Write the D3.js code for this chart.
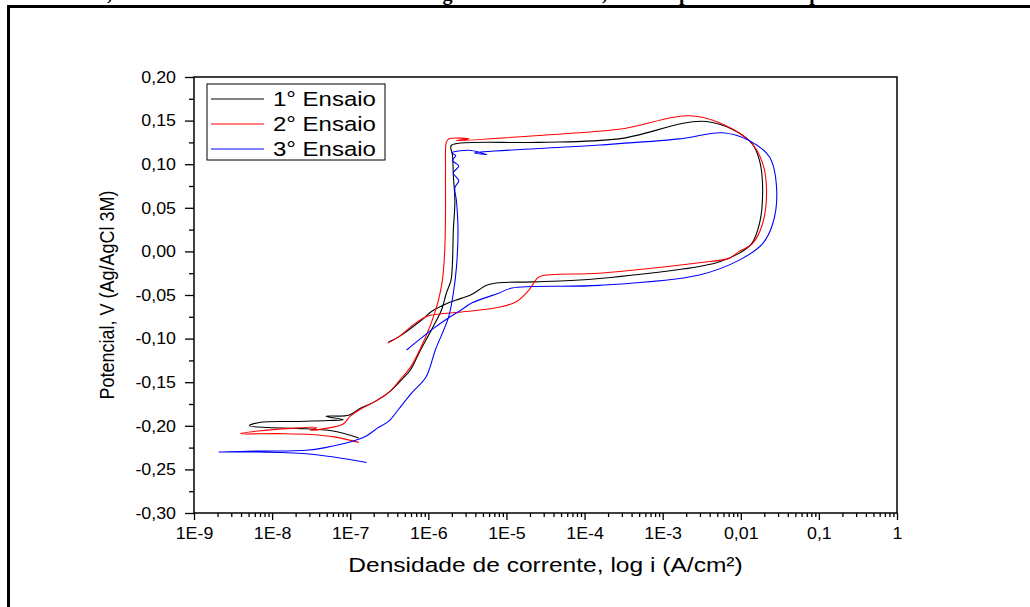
<!DOCTYPE html>
<html>
<head>
<meta charset="utf-8">
<script src="https://cdn.jsdelivr.net/npm/d3@7"></script>
<style>
  html, body { margin: 0; padding: 0; background: #fff; }
  svg { display: block; }
</style>
</head>
<body>
<div id="chart"></div>
<script>
// series: log10 of current density (A/cm2) and potential (V vs Ag/AgCl 3M), in scan order
const run1LogI = [-6.89,-7.22,-7.67,-8.05,-8.29,-8.15,-7.67,-7.28,-7.09,-7.31,-7.02,-6.87,-6.68,-6.51,-6.34,-6.23,-6.10,-5.96,-5.83,-5.77,-5.71,-5.69,-5.68,-5.66,-5.68,-5.69,-5.71,-5.61,-4.58,-3.56,-2.44,-1.89,-1.76,-1.72,-1.76,-1.86,-2.02,-2.31,-3.81,-4.67,-5.10,-5.26,-5.35,-5.46,-5.65,-5.74,-5.96,-6.09,-6.38,-6.51];
const run1E    = [-0.214,-0.206,-0.203,-0.202,-0.200,-0.196,-0.195,-0.194,-0.193,-0.189,-0.188,-0.180,-0.172,-0.162,-0.147,-0.136,-0.113,-0.090,-0.067,-0.048,-0.033,-0.010,0.024,0.058,0.087,0.110,0.121,0.124,0.125,0.129,0.149,0.127,0.104,0.070,0.032,0.009,-0.002,-0.013,-0.031,-0.035,-0.036,-0.039,-0.044,-0.050,-0.056,-0.059,-0.069,-0.079,-0.098,-0.104];

const run2LogI = [-6.89,-7.19,-7.50,-7.92,-8.41,-8.18,-7.75,-7.43,-7.51,-7.31,-7.09,-7.00,-6.87,-6.68,-6.51,-6.36,-6.23,-6.10,-5.97,-5.87,-5.82,-5.79,-5.78,-5.78,-5.77,-5.74,-5.48,-5.64,-4.58,-3.56,-2.57,-1.89,-1.72,-1.67,-1.72,-1.85,-2.02,-2.08,-2.15,-2.53,-3.81,-4.58,-4.65,-4.71,-4.88,-5.10,-5.52,-5.96,-6.03,-6.19,-6.38,-6.52];
const run2E    = [-0.219,-0.213,-0.210,-0.209,-0.209,-0.206,-0.203,-0.202,-0.205,-0.203,-0.198,-0.189,-0.181,-0.172,-0.162,-0.147,-0.133,-0.111,-0.084,-0.056,-0.033,0.001,0.047,0.093,0.125,0.129,0.129,0.127,0.133,0.140,0.155,0.127,0.101,0.070,0.032,0.009,0.000,-0.004,-0.008,-0.013,-0.025,-0.029,-0.036,-0.044,-0.058,-0.064,-0.069,-0.073,-0.075,-0.084,-0.098,-0.105];

const run3LogI = [-6.79,-7.19,-7.56,-8.18,-8.69,-8.18,-7.56,-7.32,-6.98,-6.80,-6.64,-6.51,-6.38,-6.21,-6.03,-5.91,-5.74,-5.68,-5.64,-5.62,-5.64,-5.66,-5.61,-5.68,-5.61,-5.69,-5.65,-5.70,-5.48,-5.25,-5.41,-4.58,-3.81,-2.79,-2.23,-1.89,-1.63,-1.54,-1.59,-1.72,-2.02,-2.53,-3.81,-4.93,-5.10,-5.44,-5.61,-5.74,-5.96,-6.25,-6.28];
const run3E    = [-0.242,-0.236,-0.232,-0.230,-0.230,-0.229,-0.228,-0.225,-0.218,-0.212,-0.202,-0.195,-0.181,-0.162,-0.144,-0.113,-0.075,-0.048,-0.018,0.024,0.058,0.073,0.081,0.090,0.098,0.104,0.110,0.113,0.116,0.111,0.113,0.118,0.122,0.129,0.136,0.127,0.108,0.070,0.032,0.009,-0.010,-0.027,-0.039,-0.042,-0.048,-0.059,-0.069,-0.076,-0.090,-0.111,-0.113];

const seriesNames = ["1° Ensaio", "2° Ensaio", "3° Ensaio"];
const seriesColors = ["#000000", "#ff0000", "#0000ff"];

const xTickValues = [1e-9,1e-8,1e-7,1e-6,1e-5,1e-4,1e-3,1e-2,1e-1,1];
const xTickLabels = ["1E-9","1E-8","1E-7","1E-6","1E-5","1E-4","1E-3","0,01","0,1","1"];
const yTickValues = [0.20,0.15,0.10,0.05,0.00,-0.05,-0.10,-0.15,-0.20,-0.25,-0.30];
const yTickLabels = ["0,20","0,15","0,10","0,05","0,00","-0,05","-0,10","-0,15","-0,20","-0,25","-0,30"];

const xTitle = "Densidade de corrente, log i (A/cm²)";
const yTitle = "Potencial, V (Ag/AgCl 3M)";
// caption of the page, cut off by the top edge
const captionParts = [["Amostra A,", 112, "end"], ["em água", 402, "start"], ["destilada,", 607, "end"], ["pH 7", 679, "start"], ["temperatura", 777, "start"]];

const width = 1030, height = 607;
const plot = {left: 194, right: 897, top: 77, bottom: 513};
const sx = 1.17; // the picture's text is stretched sideways
const font = "'Liberation Sans', Arial, sans-serif";

const svg = d3.select("#chart").append("svg")
  .attr("width", width).attr("height", height);

svg.append("rect").attr("width", width).attr("height", height).attr("fill", "#fff");

// caption remnants and page frame
svg.append("g").selectAll("text")
  .data(captionParts)
  .join("text")
  .attr("x", d => d[1]).attr("y", -0.5)
  .attr("text-anchor", d => d[2])
  .attr("font-family", "'Liberation Serif', 'Times New Roman', serif")
  .attr("font-weight", "bold").attr("font-size", 20)
  .text(d => d[0]);

svg.append("path")
  .attr("d", `M8.5,${height} V6.5 H${width}`)
  .attr("fill", "none").attr("stroke", "#000").attr("stroke-width", 3);

const x = d3.scaleLog().domain([1e-9, 1]).range([plot.left, plot.right]);
const y = d3.scaleLinear().domain([-0.30, 0.20]).range([plot.bottom, plot.top]);

// minor ticks
const xMinor = [];
xTickValues.slice(0, -1).forEach(v => d3.range(2, 10).forEach(k => xMinor.push(v * k)));
const yMinor = d3.range(-0.275, 0.2, 0.05);

svg.append("g")
  .attr("transform", `translate(0,${plot.bottom})`)
  .call(d3.axisBottom(x).tickValues(xMinor).tickSize(4).tickFormat(""))
  .call(g => g.select(".domain").remove());

svg.append("g")
  .attr("transform", `translate(${plot.left},0)`)
  .call(d3.axisLeft(y).tickValues(yMinor).tickSize(5).tickFormat(""))
  .call(g => g.select(".domain").remove());

const xAxis = svg.append("g")
  .attr("transform", `translate(0,${plot.bottom})`)
  .call(d3.axisBottom(x).tickValues(xTickValues).tickSize(7).tickPadding(7)
    .tickFormat((d, i) => xTickLabels[i]))
  .call(g => g.select(".domain").remove());

const yAxis = svg.append("g")
  .attr("transform", `translate(${plot.left},0)`)
  .call(d3.axisLeft(y).tickValues(yTickValues).tickSize(9).tickPadding(8)
    .tickFormat((d, i) => yTickLabels[i]))
  .call(g => g.select(".domain").remove());

const tickSx = 1.08;
svg.selectAll(".tick line").attr("stroke", "#000").attr("stroke-width", 1.3);
[xAxis, yAxis].forEach(a => a.selectAll("text")
  .attr("font-family", font).attr("font-size", 16.5).attr("fill", "#000")
  .attr("transform", `scale(${tickSx},1)`));
yAxis.selectAll("text").attr("x", -18 / tickSx);

// plot frame
svg.append("rect")
  .attr("x", plot.left).attr("y", plot.top)
  .attr("width", plot.right - plot.left).attr("height", plot.bottom - plot.top)
  .attr("fill", "none").attr("stroke", "#000").attr("stroke-width", 1.5);

// curves
const runs = [[run1LogI, run1E], [run2LogI, run2E], [run3LogI, run3E]]
  .map(([li, e]) => li.map((v, i) => [Math.pow(10, v), e[i]]));

const line = d3.line()
  .x(d => x(d[0])).y(d => y(d[1]))
  .curve(d3.curveCatmullRom.alpha(0.5));

svg.append("g")
  .selectAll("path")
  .data(runs)
  .join("path")
  .attr("d", line)
  .attr("fill", "none")
  .attr("stroke", (d, i) => seriesColors[i])
  .attr("stroke-width", 1.1)
  .attr("stroke-linejoin", "round");

// axis titles
svg.append("text")
  .attr("transform", `translate(${(plot.left + plot.right) / 2},572) scale(${sx},1)`)
  .attr("text-anchor", "middle")
  .attr("font-family", font).attr("font-size", 21)
  .text(xTitle);

svg.append("text")
  .attr("transform", `translate(114,${(plot.top + plot.bottom) / 2}) rotate(-90) scale(1,${sx})`)
  .attr("text-anchor", "middle")
  .attr("font-family", font).attr("font-size", 18)
  .text(yTitle);

// legend
const legend = svg.append("g").attr("transform", "translate(207,84)");
legend.append("rect")
  .attr("width", 178).attr("height", 76)
  .attr("fill", "#fff").attr("stroke", "#000").attr("stroke-width", 1);

const entry = legend.selectAll("g.entry")
  .data(seriesNames)
  .join("g")
  .attr("class", "entry")
  .attr("transform", (d, i) => `translate(0,${15 + i * 25})`);

entry.append("line")
  .attr("x1", 4).attr("x2", 57)
  .attr("stroke", (d, i) => seriesColors[i]).attr("stroke-width", 1.1);

entry.append("text")
  .attr("transform", `translate(66,7) scale(${sx},1)`)
  .attr("font-family", font).attr("font-size", 20.5)
  .text(d => d);
</script>
</body>
</html>
